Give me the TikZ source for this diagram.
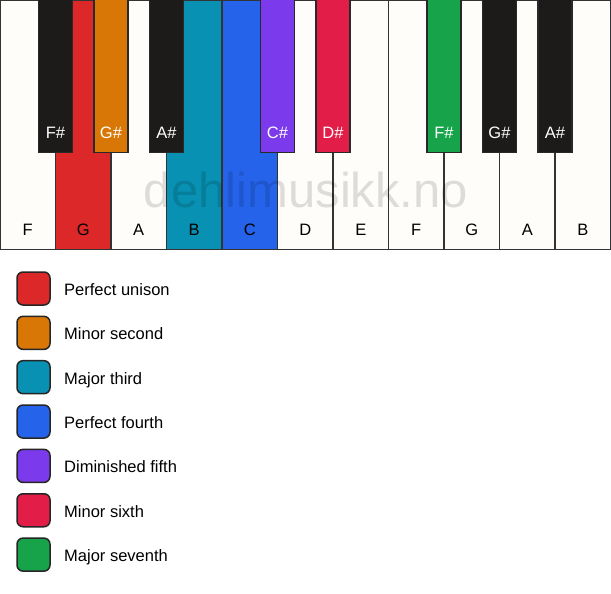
\documentclass[tikz,border=0pt]{standalone}
\usepackage{fontspec}
\setmainfont{Liberation Sans}
\definecolor{keywhite}{HTML}{FFFDF9}
\definecolor{keyblack}{HTML}{1C1B1A}
\definecolor{edge}{HTML}{333333}
\definecolor{cred}{HTML}{DC2828}
\definecolor{corange}{HTML}{D97706}
\definecolor{cteal}{HTML}{0891B2}
\definecolor{cblue}{HTML}{2563EB}
\definecolor{cviolet}{HTML}{7C3AED}
\definecolor{crose}{HTML}{E11D48}
\definecolor{cgreen}{HTML}{16A34A}
\tikzset{
  whitekey/.style={draw=edge, line width=1.5pt, fill=keywhite},
  blackkey/.style={draw=edge!80!black, line width=1.2pt, fill=keyblack},
  wlabel/.style={font=\fontsize{16.5}{18}\selectfont, text=black, inner sep=0pt},
  blabel/.style={font=\fontsize{16.5}{18}\selectfont, text=white, inner sep=0pt},
  swatch/.style={draw=black!85, line width=1.5pt, rounded corners=6pt},
  legtext/.style={font=\fontsize{16.5}{18}\selectfont, anchor=base west, inner sep=0pt},
}
\begin{document}
\begin{tikzpicture}[x=1pt,y=-1pt]
\useasboundingbox (0,0) rectangle (611,594);
\fill[white] (0,0) rectangle (611,594);
% white keys
\foreach \i/\n/\c in {0/F/keywhite,1/G/cred,2/A/keywhite,3/B/cteal,4/C/cblue,5/D/keywhite,6/E/keywhite,7/F/keywhite,8/G/keywhite,9/A/keywhite,10/B/keywhite}{
  \draw[whitekey, fill=\c] ({\i*55.5},0) rectangle ({(\i+1)*55.5},249.5);
  \node[wlabel] (w\i) at ({(\i+0.5)*55.5},230) {\n};
}
% watermark
\node[font=\fontsize{49}{52}\selectfont, text=black, text opacity=0.13, inner sep=0pt] (wm) at (306,190) {dehlimusikk.no};
% black keys
\foreach \b/\n/\c in {1/F\#/keyblack,2/G\#/corange,3/A\#/keyblack,5/C\#/cviolet,6/D\#/crose,8/F\#/cgreen,9/G\#/keyblack,10/A\#/keyblack}{
  \draw[blackkey, fill=\c] ({\b*55.5-17},-2) rectangle ({\b*55.5+17},152.5);
  \node[blabel] (b\b) at ({\b*55.5},133) {\n};
}
% legend
\foreach \k/\c/\t in {0/cred/Perfect unison,1/corange/Minor second,2/cteal/Major third,3/cblue/Perfect fourth,4/cviolet/Diminished fifth,5/crose/Minor sixth,6/cgreen/Major seventh}{
  \draw[swatch, fill=\c] (17,{272+\k*44.35}) rectangle (50,{305+\k*44.35});
  \node[legtext] (l\k) at (64,{295.3+\k*44.35}) {\t};
}
\end{tikzpicture}
\end{document}
